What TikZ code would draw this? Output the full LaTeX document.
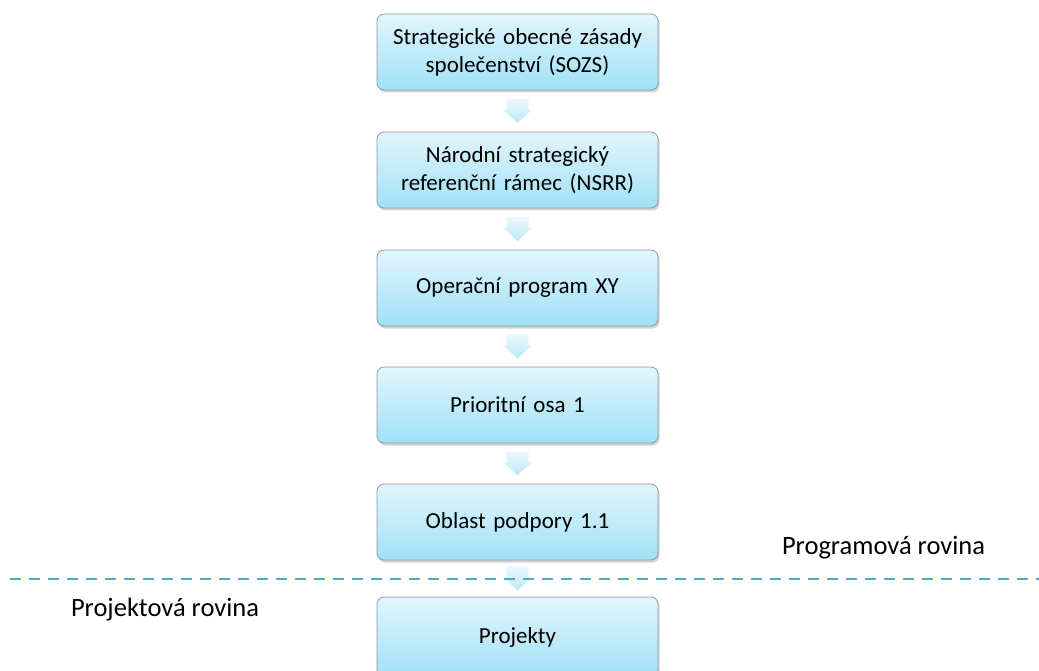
\documentclass[tikz,border=0pt]{standalone}
\usepackage{fontspec}
\setmainfont{Carlito}
\usetikzlibrary{calc,shadows}
\definecolor{boxtop}{HTML}{E2F5FC}
\definecolor{boxbottom}{HTML}{A0E1F7}
\definecolor{boxline}{HTML}{8A9DA2}
\definecolor{arrowtop}{HTML}{EAF8FD}
\definecolor{arrowbottom}{HTML}{BCE9F8}
\definecolor{levelline}{HTML}{4BACC6}
\tikzset{
  stepbox/.style = {rectangle, rounded corners = 7pt, draw = boxline, line width = 0.8pt,
    top color = boxtop, bottom color = boxbottom, minimum width = 281pt, minimum height = 76pt,
    text width = 270pt, align = center, font = \fontsize{23}{28}\selectfont,
    drop shadow = {shadow xshift = 1.5pt, shadow yshift = -2.5pt, opacity = 0.35}},
  levellabel/.style = {font = \fontsize{26.5}{30}\selectfont}
}
\begin{document}
\begin{tikzpicture}[x = 1pt, y = -1pt]
            \useasboundingbox (0, 0) rectangle (1039, 671);
            \node [stepbox] (sozs) at (517.5, 52) {Strategické obecné zásady\\společenství (SOZS)};
            \node [stepbox] (nsrr) at (517.5, 170) {Národní strategický\\referenční rámec (NSRR)};
            \node [stepbox] (op) at (517.5, 288) {Operační program XY};
            \node [stepbox] (osa) at (517.5, 405) {Prioritní osa 1};
            \node [stepbox] (oblast) at (517.5, 522) {Oblast podpory 1.1};
            \node [stepbox, minimum height = 80pt] (projekty) at (517.5, 637) {Projekty};

            \foreach \a/\b in {sozs/nsrr, nsrr/op, op/osa, osa/oblast, oblast/projekty} {
                \coordinate (m) at ($(\a.south)!0.5!(\b.north)$);
                \shade [top color = arrowtop, bottom color = arrowbottom]
                    ($(m) + (-11, -12)$) -- ($(m) + (11, -12)$) -- ($(m) + (11, -1)$) -- ($(m) + (14, -1)$)
                    -- ($(m) + (0, 12)$) -- ($(m) + (-14, -1)$) -- ($(m) + (-11, -1)$) -- cycle;
            }

            \coordinate (lineleft) at (10, 579);
            \coordinate (lineright) at (1039, 579);
            \draw [levelline, line width = 2.6pt, dash pattern = on 11pt off 8pt] (lineleft) -- (lineright);

            \node [levellabel] (program) at (883.5, 548) {Programová rovina};
            \node [levellabel] (projekt) at (165, 610) {Projektová rovina};
        \end{tikzpicture}
\end{document}
